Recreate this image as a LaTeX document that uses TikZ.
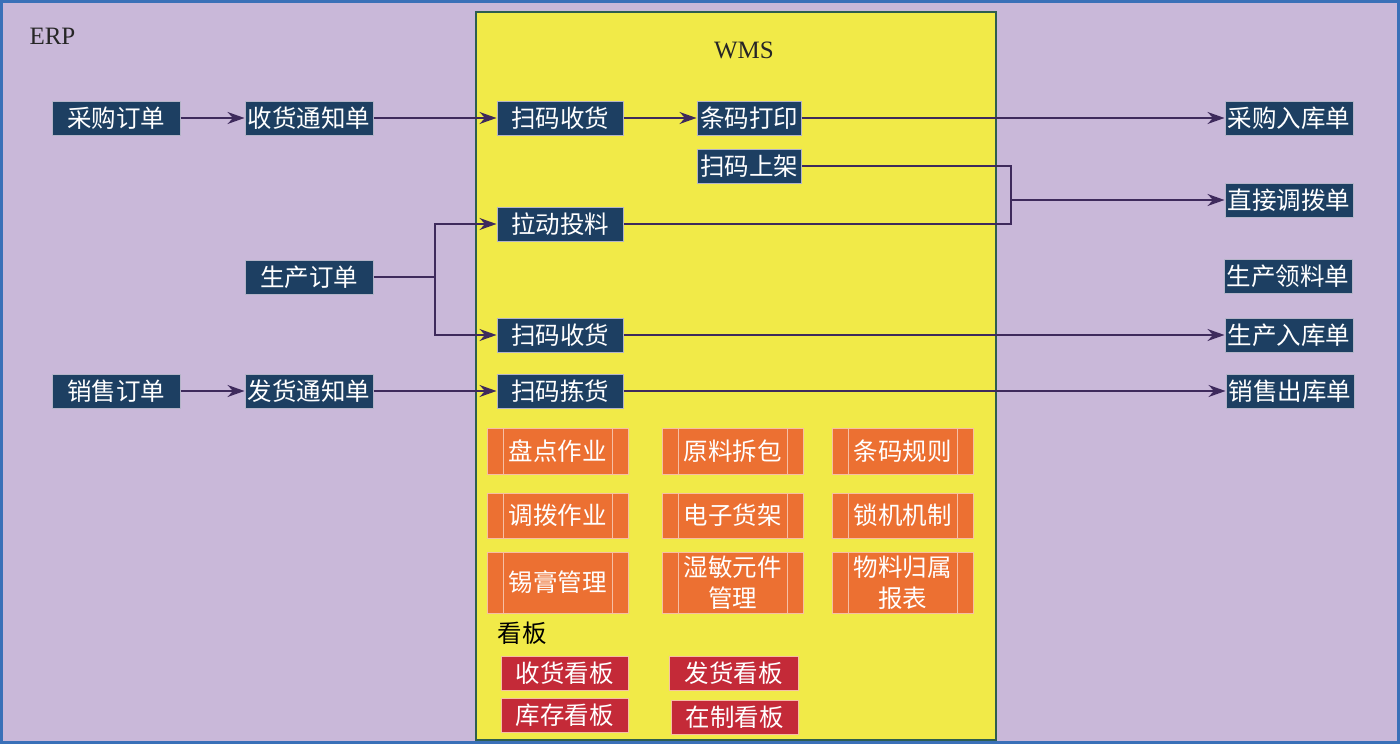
\documentclass[tikz,border=0pt]{standalone}
\usepackage{fontspec}
\setmainfont{Liberation Serif}
\newfontfamily\cjk{Noto Sans CJK SC}
\usetikzlibrary{arrows.meta,positioning}
\definecolor{erpbg}{HTML}{C9B8D9}
\definecolor{erpedge}{HTML}{3A70B8}
\definecolor{wmsyellow}{HTML}{F1EA48}
\definecolor{wmsedge}{HTML}{2E5E4E}
\definecolor{docblue}{HTML}{1D3F62}
\definecolor{docedge}{HTML}{B4B4C8}
\definecolor{taskorange}{HTML}{EC7032}
\definecolor{taskedge}{HTML}{F6BFA4}
\definecolor{boardred}{HTML}{C42A38}
\definecolor{flowpurple}{HTML}{3E2A5C}

\begin{document}
\begin{tikzpicture}[x=1pt,y=-1pt,
    cjkfont/.style={font=\cjk\fontsize{24.5}{31}\selectfont},
    doc/.style={cjkfont,draw=docedge,line width=1pt,fill=docblue,text=white,
      minimum width=128pt,minimum height=34pt,inner xsep=0pt,inner ysep=0pt},
    task/.style={cjkfont,draw=taskedge,line width=1pt,fill=taskorange,text=white,
      minimum width=141pt,minimum height=46pt,inner xsep=0pt,inner ysep=0pt,align=center,
      path picture={
        \draw[taskedge,line width=1pt]
          ([xshift=16pt]path picture bounding box.north west) --
          ([xshift=16pt]path picture bounding box.south west)
          ([xshift=-16pt]path picture bounding box.north east) --
          ([xshift=-16pt]path picture bounding box.south east);}},
    board/.style={cjkfont,draw=taskedge,line width=1pt,fill=boardred,text=white,
      minimum width=127pt,minimum height=34pt,inner ysep=0pt},
    wire/.style={draw=flowpurple,line width=1.8pt},
    flow/.style={wire,-{Stealth[length=17pt,width=12pt]}}]
    \useasboundingbox (0,0) rectangle (1400,744);
    % ERP and WMS areas
    \draw[fill=erpbg,draw=erpedge,line width=3pt] (1.5,1.5) rectangle (1398.5,742.5);
    \draw[fill=wmsyellow,draw=wmsedge,line width=1.5pt] (476,12) rectangle (996,740);
    \node[anchor=west,font=\fontsize{25}{28}\selectfont,text=black!85] (erp) at (26,36) {ERP};
    \node[font=\fontsize{25}{28}\selectfont,text=black!85] (wms) at (744,50) {WMS};

    % ERP documents (left)
    \node[doc] (po) at (116,118) {采购订单};
    \node[doc] (rn) at (309,118) {收货通知单};
    \node[doc] (mo) at (309,277) {生产订单};
    \node[doc] (so) at (116,391) {销售订单};
    \node[doc] (dn) at (309,391) {发货通知单};

    % WMS operations
    \node[doc,minimum width=126pt] (scanA) at (560,118) {扫码收货};
    \node[doc,minimum width=104pt] (print) at (749,118) {条码打印};
    \node[doc,minimum width=104pt] (shelf) at (749,166) {扫码上架};
    \node[doc,minimum width=126pt] (pull) at (560,224) {拉动投料};
    \node[doc,minimum width=126pt] (scanB) at (560,335) {扫码收货};
    \node[doc,minimum width=126pt] (pick) at (560,391) {扫码拣货};

    % ERP documents (right)
    \node[doc] (pin) at (1289,118) {采购入库单};
    \node[doc] (tr) at (1289,200) {直接调拨单};
    \node[doc] (mi) at (1288,276) {生产领料单};
    \node[doc] (fin) at (1289,335) {生产入库单};
    \node[doc] (out) at (1290,391) {销售出库单};

    % flows
    \draw[flow] (po) -- (rn);
    \draw[flow] (rn) -- (scanA);
    \draw[flow] (scanA) -- (print);
    \draw[flow] (print) -- (pin);
    \coordinate (join) at (1011,200);
    \draw[wire] (shelf.east) -| (join) |- (pull.east);
    \draw[flow] (join) -- (tr);
    \coordinate (split) at (435,277);
    \draw[wire] (mo) -- (split);
    \draw[flow] (split) |- (pull);
    \draw[flow] (split) |- (scanB);
    \draw[flow] (scanB) -- (fin);
    \draw[flow] (so) -- (dn);
    \draw[flow] (dn) -- (pick);
    \draw[flow] (pick) -- (out);

    % WMS functions
    \node[task] (count) at (557.5,451) {盘点作业};
    \node[task] (unpack) at (732.5,451) {原料拆包};
    \node[task] (rule) at (902.5,451) {条码规则};
    \node[task,minimum height=45pt] (move) at (557.5,515.5) {调拨作业};
    \node[task,minimum height=45pt] (rack) at (732.5,515.5) {电子货架};
    \node[task,minimum height=45pt] (lock) at (902.5,515.5) {锁机机制};
    \node[task,minimum height=61pt] (paste) at (557.5,582.5) {锡膏管理};
    \node[task,minimum height=61pt] (msd) at (732.5,582.5) {湿敏元件\\管理};
    \node[task,minimum height=61pt] (owner) at (902.5,582.5) {物料归属\\报表};

    % boards
    \node[cjkfont] (boards) at (522,633) {看板};
    \node[board] (recvb) at (564.5,673.5) {收货看板};
    \node[board,minimum width=129pt] (shipb) at (733.5,673.5) {发货看板};
    \node[board] (stockb) at (564.5,715.5) {库存看板};
    \node[board] (wipb) at (734.5,717.5) {在制看板};
\end{tikzpicture}
\end{document}
